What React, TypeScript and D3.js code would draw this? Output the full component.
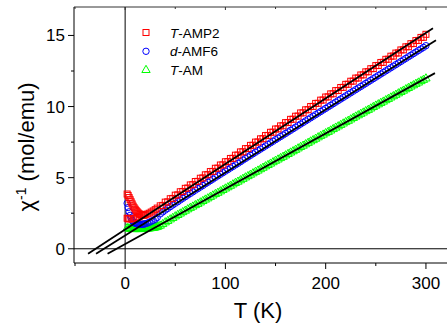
import React from "react";
import * as d3 from "d3";

// ---- data ----
const redLowT = [2,3,4,5,6,7,8,9,10,11,12,13,14,15,16,17,18,19,20,22,24,26,28,30,32,
  2,3,4,6,8,10,12,14];
const redLowV = [3.85,3.75,3.6,3.45,3.3,3.15,3.0,2.88,2.78,2.68,2.6,2.52,2.46,2.42,2.38,2.36,2.36,2.37,2.39,2.44,2.5,2.58,2.66,2.75,2.86,
  2.15,2.12,2.1,2.1,2.12,2.15,2.2,2.25];
const redHighT = [35,40,45,50,55,60,65,70,75,80,85,90,95,100,105,110,115,120,125,130,135,140,145,150,155,160,165,170,175,180,185,190,195,200,205,210,215,220,225,230,235,240,245,250,255,260,265,270,275,280,285,290,295,300,
  37.5,42.5,47.5,52.5,57.5,62.5,67.5,72.5,77.5,82.5,87.5,92.5,97.5,102.5,107.5,112.5,117.5,122.5,127.5,132.5,137.5,142.5,147.5,152.5,157.5,162.5,167.5,172.5,177.5,182.5,187.5,192.5,197.5,202.5,207.5,212.5,217.5,222.5,227.5,232.5,237.5,242.5,247.5,252.5,257.5,262.5,267.5,272.5,277.5,282.5,287.5,292.5,297.5];
const redHighV = [3.02,3.28,3.52,3.77,4.01,4.25,4.49,4.73,4.96,5.2,5.43,5.66,5.89,6.12,6.35,6.58,6.81,7.04,7.27,7.5,7.73,7.96,8.19,8.42,8.64,8.87,9.1,9.32,9.55,9.77,10.0,10.22,10.45,10.67,10.89,11.12,11.34,11.56,11.78,12.0,12.22,12.44,12.66,12.88,13.1,13.32,13.54,13.76,13.98,14.2,14.42,14.64,14.86,15.08,
  3.05,3.3,3.54,3.79,4.03,4.27,4.51,4.74,4.98,5.21,5.44,5.67,5.9,6.13,6.36,6.59,6.82,7.05,7.28,7.51,7.74,7.97,8.2,8.43,8.65,8.88,9.11,9.33,9.56,9.78,10.01,10.23,10.46,10.68,10.9,11.13,11.35,11.57,11.79,12.01,12.23,12.45,12.67,12.89,13.11,13.33,13.55,13.77,13.99,14.21,14.43,14.65,14.87];

const blueLowT = [2,3,4,5,6,7,8,9,10,11,12,13,14,15,16,17,18,19,20,22,24,26,28,30,32];
const blueLowV = [3.2,2.9,2.6,2.35,2.15,2.0,1.9,1.84,1.8,1.77,1.75,1.73,1.72,1.72,1.72,1.73,1.73,1.74,1.76,1.8,1.86,1.93,2.0,2.08,2.2];
const blueHighT = [35,40,45,50,55,60,65,70,75,80,85,90,95,100,105,110,115,120,125,130,135,140,145,150,155,160,165,170,175,180,185,190,195,200,205,210,215,220,225,230,235,240,245,250,255,260,265,270,275,280,285,290,295,300,
  37.5,42.5,47.5,52.5,57.5,62.5,67.5,72.5,77.5,82.5,87.5,92.5,97.5,102.5,107.5,112.5,117.5,122.5,127.5,132.5,137.5,142.5,147.5,152.5,157.5,162.5,167.5,172.5,177.5,182.5,187.5,192.5,197.5,202.5,207.5,212.5,217.5,222.5,227.5,232.5,237.5,242.5,247.5,252.5,257.5,262.5,267.5,272.5,277.5,282.5,287.5,292.5,297.5];
const blueHighV = [2.45,2.72,2.96,3.2,3.43,3.66,3.89,4.12,4.34,4.57,4.79,5.02,5.24,5.46,5.68,5.9,6.12,6.35,6.57,6.79,7.01,7.23,7.45,7.67,7.89,8.11,8.33,8.55,8.77,8.99,9.21,9.43,9.65,9.87,10.09,10.31,10.53,10.75,10.97,11.19,11.41,11.63,11.85,12.07,12.29,12.51,12.73,12.95,13.17,13.39,13.61,13.83,14.05,14.28,
  2.59,2.84,3.08,3.31,3.55,3.78,4.0,4.23,4.45,4.68,4.9,5.13,5.35,5.57,5.79,6.01,6.24,6.46,6.68,6.9,7.12,7.34,7.56,7.78,8.0,8.22,8.44,8.66,8.88,9.1,9.32,9.54,9.76,9.98,10.2,10.42,10.64,10.86,11.08,11.3,11.52,11.74,11.96,12.18,12.4,12.62,12.84,13.06,13.28,13.5,13.72,13.94,14.16];

const greenLowT = [2,3,4,5,6,7,8,9,10,11,12,13,14,15,16,17,18,19,20,21,22,23,24,25,26,27,28,29,30,31,32,33];
const greenLowV = [1.45,1.43,1.42,1.41,1.4,1.39,1.39,1.38,1.38,1.38,1.38,1.38,1.38,1.38,1.39,1.39,1.4,1.4,1.41,1.41,1.42,1.42,1.43,1.44,1.45,1.46,1.47,1.48,1.5,1.52,1.54,1.57];
const greenHighT = [35,40,45,50,55,60,65,70,75,80,85,90,95,100,105,110,115,120,125,130,135,140,145,150,155,160,165,170,175,180,185,190,195,200,205,210,215,220,225,230,235,240,245,250,255,260,265,270,275,280,285,290,295,300,
  37.5,42.5,47.5,52.5,57.5,62.5,67.5,72.5,77.5,82.5,87.5,92.5,97.5,102.5,107.5,112.5,117.5,122.5,127.5,132.5,137.5,142.5,147.5,152.5,157.5,162.5,167.5,172.5,177.5,182.5,187.5,192.5,197.5,202.5,207.5,212.5,217.5,222.5,227.5,232.5,237.5,242.5,247.5,252.5,257.5,262.5,267.5,272.5,277.5,282.5,287.5,292.5,297.5];
const greenHighV = [1.62,1.85,2.06,2.27,2.47,2.67,2.87,3.06,3.25,3.45,3.64,3.84,4.03,4.23,4.42,4.62,4.81,5.01,5.2,5.4,5.59,5.79,5.98,6.18,6.37,6.56,6.76,6.95,7.15,7.34,7.54,7.73,7.93,8.12,8.31,8.51,8.7,8.9,9.09,9.29,9.48,9.67,9.86,10.06,10.25,10.44,10.63,10.82,11.02,11.21,11.4,11.59,11.78,11.97,
  1.73,1.95,2.16,2.37,2.57,2.77,2.96,3.15,3.35,3.54,3.74,3.93,4.13,4.32,4.52,4.71,4.91,5.1,5.3,5.49,5.69,5.88,6.08,6.27,6.46,6.66,6.85,7.05,7.24,7.44,7.63,7.83,8.02,8.21,8.41,8.6,8.8,8.99,9.19,9.38,9.57,9.76,9.96,10.15,10.34,10.53,10.72,10.92,11.11,11.3,11.49,11.68,11.87];

// Curie-Weiss fits: intercept, slope, T range
const fitIntercept = [1.36, 0.93, 0.33];
const fitSlope = [0.0461, 0.0443, 0.0389];
const fitStart = [-37, -29, -17.5];
const fitEnd = [307, 310, 309];

const seriesNames = ["T-AMP2", "d-AMF6", "T-AM"];
const seriesColors = ["#ff0000", "#0000ff", "#00ff00"];
const xTicks = [0, 100, 200, 300];
const xMinor = [-50, 50, 150, 250];
const yTicks = [0, 5, 10, 15];
const yMinor = [2.5, 7.5, 12.5];

const W = 447, H = 327;
const x = d3.scaleLinear().domain([-51, 322]).range([74, 448]);
const y = d3.scaleLinear().domain([-1, 17]).range([263, 7]);

const FONT = "Liberation Sans, Arial, sans-serif";
const triPath = d3.symbol().type(d3.symbolTriangle).size(30)() as string;

function Marker({ kind, cx, cy, color }: { kind: number; cx: number; cy: number; color: string }) {
  if (kind === 0) return <rect x={cx - 3} y={cy - 3} width={6} height={6} fill="none" stroke={color} strokeWidth={1} />;
  if (kind === 1) return <circle cx={cx} cy={cy} r={3.2} fill="none" stroke={color} strokeWidth={1} />;
  return <path d={triPath} transform={`translate(${cx},${cy})`} fill="none" stroke={color} strokeWidth={1} />;
}

export default function App() {
  const sets = [
    { t: [...redLowT, ...redHighT], v: [...redLowV, ...redHighV] },
    { t: [...blueLowT, ...blueHighT], v: [...blueLowV, ...blueHighV] },
    { t: [...greenLowT, ...greenHighT], v: [...greenLowV, ...greenHighV] },
  ];
  return (
    <svg width={W} height={H} style={{ position: "absolute", left: 0, top: 0 }} fontFamily={FONT}>
      <rect width={W} height={H} fill="white" />
      {/* frame */}
      <line x1={74} x2={W} y1={7} y2={7} stroke="#333" strokeWidth={1} />
      <line x1={74} x2={74} y1={7} y2={263} stroke="#000" strokeWidth={1} />
      <line x1={74} x2={W} y1={263} y2={263} stroke="#000" strokeWidth={1} />
      {/* zero lines */}
      <line x1={x(0)} x2={x(0)} y1={7} y2={263} stroke="#000" strokeWidth={1} />
      <line x1={74} x2={W} y1={y(0)} y2={y(0)} stroke="#000" strokeWidth={1} />
      {/* data */}
      {[2, 1, 0].map((k) =>
        sets[k].t.map((t, i) => (
          <Marker key={`${k}-${i}`} kind={k} cx={x(t)} cy={y(sets[k].v[i])} color={seriesColors[k]} />
        ))
      )}
      {/* fits */}
      {fitIntercept.map((b, k) => (
        <path key={k}
          d={d3.line<number>().x((t) => x(t)).y((t) => y(b + fitSlope[k] * t))([fitStart[k], fitEnd[k]]) as string}
          stroke="#000" strokeWidth={1.8} fill="none" />
      ))}
      {/* x ticks */}
      {xTicks.map((t) => (
        <g key={t}>
          <line x1={x(t)} x2={x(t)} y1={263} y2={269} stroke="#000" />
          <line x1={x(t)} x2={x(t)} y1={7} y2={10} stroke="#333" />
          <text x={x(t)} y={289} textAnchor="middle" fontSize={17}>{t}</text>
        </g>
      ))}
      {xMinor.map((t) => (
        <g key={t}>
          <line x1={x(t)} x2={x(t)} y1={263} y2={266} stroke="#000" />
          <line x1={x(t)} x2={x(t)} y1={7} y2={9} stroke="#333" />
        </g>
      ))}
      {/* y ticks */}
      {yTicks.map((v) => (
        <g key={v}>
          <line x1={68} x2={74} y1={y(v)} y2={y(v)} stroke="#000" />
          <text x={65} y={y(v) + 6} textAnchor="end" fontSize={17}>{v}</text>
        </g>
      ))}
      {yMinor.map((v) => (
        <line key={v} x1={71} x2={74} y1={y(v)} y2={y(v)} stroke="#000" />
      ))}
      {/* axis titles */}
      <text x={258} y={318} textAnchor="middle" fontSize={22}>T (K)</text>
      <text transform={`translate(34,${(7 + 263) / 2 + 12}) rotate(-90)`} textAnchor="middle" fontSize={22}>
        χ<tspan dy={-8} fontSize={14}>-1</tspan><tspan dy={8}> (mol/emu)</tspan>
      </text>
      {/* legend */}
      {seriesNames.map((n, k) => {
        const ly = 32.5 + k * 18.8;
        return (
          <g key={n}>
            <Marker kind={k} cx={146} cy={ly} color={seriesColors[k]} />
            <text x={170} y={ly + 5} fontSize={13.5}>
              <tspan fontStyle="italic">{n.slice(0, 1)}</tspan>{n.slice(1)}
            </text>
          </g>
        );
      })}
    </svg>
  );
}
